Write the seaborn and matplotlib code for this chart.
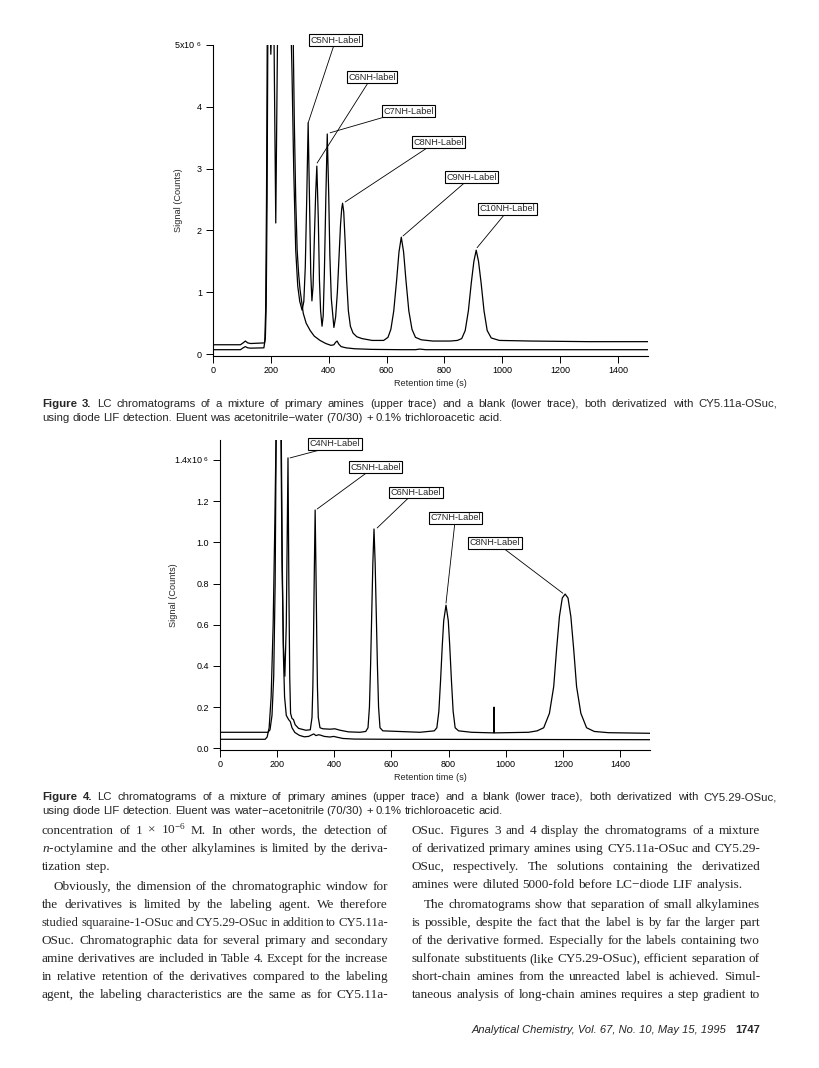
import matplotlib
matplotlib.use("Agg")
import matplotlib.pyplot as plt
import pandas as pd
import seaborn as sns

# ---------------- data ----------------
# Figure 3: retention time (s) and signal (x10^6 counts)
fig3_sample_t = [0, 95, 104, 112, 120, 130, 178, 181, 184, 187, 190, 196, 200, 204, 210,
                 214, 217, 220, 224, 268, 273, 279, 286, 293, 300, 308, 314, 319, 324, 329,
                 334, 338, 342, 346, 350, 355, 359, 364, 368, 372, 377, 381, 385, 390, 395,
                 400, 404, 409, 418, 424, 430, 436, 441, 445, 448, 452, 457, 462, 468, 475,
                 484, 497, 515, 550, 590, 605, 615, 625, 635, 643, 651, 659, 667, 677, 688,
                 700, 720, 760, 820, 845, 860, 872, 883, 893, 902, 910, 918, 927, 937, 948,
                 962, 990, 1100, 1300, 1510]
fig3_sample_s = [0.15, 0.15, 0.18, 0.21, 0.18, 0.17, 0.18, 0.25, 0.8, 2.5, 5.6, 5.6, 4.85, 5.6, 5.6,
                 3.6, 2.12, 3.6, 5.6, 5.6, 4.6, 3.0, 1.68, 1.1, 0.85, 0.71, 0.85, 1.4, 2.5, 3.74,
                 2.4, 1.3, 0.86, 1.1, 1.8, 2.6, 3.04, 2.2, 1.2, 0.7, 0.45, 0.62, 1.3, 2.5, 3.56,
                 2.6, 1.6, 0.9, 0.43, 0.6, 1.0, 1.6, 2.1, 2.35, 2.44, 2.3, 1.8, 1.2, 0.7, 0.45,
                 0.34, 0.28, 0.25, 0.22, 0.22, 0.27, 0.4, 0.7, 1.2, 1.65, 1.89, 1.65, 1.2, 0.7, 0.4,
                 0.27, 0.23, 0.21, 0.21, 0.22, 0.25, 0.38, 0.7, 1.15, 1.5, 1.68, 1.5, 1.15, 0.7, 0.38,
                 0.26, 0.22, 0.21, 0.2, 0.2]
fig3_blank_t = [0, 95, 104, 112, 120, 130, 176, 179, 182, 185, 188, 276, 281, 286, 291, 296,
                301, 312, 322, 336, 350, 370, 390, 408, 418, 424, 429, 435, 443, 460, 490,
                550, 650, 700, 715, 735, 1100, 1510]
fig3_blank_s = [0.07, 0.07, 0.1, 0.12, 0.1, 0.095, 0.1, 0.2, 0.7, 2.5, 5.6, 5.6, 3.8, 2.5, 1.68, 1.3,
                1.04, 0.66, 0.5, 0.38, 0.29, 0.22, 0.17, 0.14, 0.15, 0.19, 0.21, 0.16, 0.12, 0.1, 0.085,
                0.075, 0.07, 0.07, 0.08, 0.07, 0.07, 0.07]
fig3_labels = ["C5NH-Label", "C6NH-label", "C7NH-Label", "C8NH-Label", "C9NH-Label", "C10NH-Label"]
fig3_peak_t = [329, 360, 405, 457, 657, 913]
fig3_peak_s = [3.74, 3.09, 3.58, 2.46, 1.91, 1.72]

# Figure 4
fig4_sample_t = [0, 168, 175, 182, 188, 193, 197, 213, 217, 222, 227, 232, 235, 238, 241, 244,
                 247, 252, 257, 263, 275, 300, 316, 322, 325, 327, 330, 333, 336, 339, 341, 344,
                 350, 360, 385, 402, 420, 450, 490, 510, 518, 523, 527, 531, 535, 539, 543, 547,
                 551, 555, 560, 570, 700, 750, 759, 766, 772, 778, 783, 791, 799, 804, 810, 816,
                 823, 835, 880, 958, 959, 960, 1080, 1110, 1133, 1153, 1168, 1178, 1188, 1198, 1208,
                 1218, 1228, 1238, 1248, 1263, 1283, 1310, 1360, 1510]
fig4_sample_s = [0.078, 0.078, 0.09, 0.16, 0.35, 0.8, 1.6, 1.6, 0.9, 0.5, 0.35, 0.6, 1.0, 1.41, 0.8, 0.35,
                 0.17, 0.145, 0.14, 0.115, 0.097, 0.088, 0.09, 0.15, 0.3, 0.5, 0.85, 1.157, 0.85, 0.5, 0.3, 0.15,
                 0.1, 0.095, 0.093, 0.095, 0.088, 0.08, 0.078, 0.082, 0.1, 0.2, 0.4, 0.65, 0.9, 1.065, 0.9, 0.65,
                 0.4, 0.2, 0.1, 0.085, 0.078, 0.085, 0.1, 0.18, 0.33, 0.5, 0.62, 0.695, 0.62, 0.5, 0.33, 0.18,
                 0.1, 0.085, 0.078, 0.075, 0.2, 0.075, 0.078, 0.085, 0.1, 0.17, 0.3, 0.48, 0.64, 0.73, 0.749,
                 0.73, 0.64, 0.48, 0.3, 0.17, 0.1, 0.082, 0.076, 0.073]
fig4_blank_t = [0, 158, 165, 172, 179, 186, 192, 197, 214, 218, 222, 226, 232, 240, 246, 252,
                262, 278, 295, 310, 322, 328, 336, 345, 352, 365, 385, 398, 410, 430, 470, 600, 1510]
fig4_blank_s = [0.044, 0.044, 0.055, 0.1, 0.25, 0.6, 1.1, 1.6, 1.6, 0.9, 0.45, 0.25, 0.16, 0.14, 0.13, 0.1,
                0.077, 0.063, 0.056, 0.058, 0.066, 0.07, 0.062, 0.066, 0.064, 0.058, 0.055, 0.058, 0.054,
                0.048, 0.045, 0.044, 0.042]
fig4_labels = ["C4NH-Label", "C5NH-Label", "C6NH-Label", "C7NH-Label", "C8NH-Label"]
fig4_peak_t = [245, 340, 550, 791, 1200]
fig4_peak_s = [1.41, 1.162, 1.07, 0.705, 0.753]

xticks = [0, 200, 400, 600, 800, 1000, 1200, 1400]
fig3_yticks = [0, 1, 2, 3, 4, 5]
fig3_ylabels = ["0", "1", "2", "3", "4", "5x10 $^{\\mathsf{6}}$"]
fig4_yticks = [0.0, 0.2, 0.4, 0.6, 0.8, 1.0, 1.2, 1.4]
fig4_ylabels = ["0.0", "0.2", "0.4", "0.6", "0.8", "1.0", "1.2", "1.4x10 $^{\\mathsf{6}}$"]

cap3 = ["Figure 3.  LC chromatograms of a mixture of primary amines (upper trace) and a blank (lower trace), both derivatized with CY5.11a-OSuc,",
        "using diode LIF detection.  Eluent was acetonitrile\u2212water (70/30) + 0.1% trichloroacetic acid."]
cap4 = ["Figure 4.  LC chromatograms of a mixture of primary amines (upper trace) and a blank (lower trace), both derivatized with CY5.29-OSuc,",
        "using diode LIF detection.  Eluent was water\u2212acetonitrile (70/30) + 0.1% trichloroacetic acid."]

col_left = ["concentration of 1 \u00d7 10$^{-6}$ M.  In other words, the detection of",
            "$\\mathit{n}$-octylamine and the other alkylamines is limited by the deriva-",
            "tization step.",
            "Obviously, the dimension of the chromatographic window for",
            "the derivatives is limited by the labeling agent.  We therefore",
            "studied squaraine-1-OSuc and CY5.29-OSuc in addition to CY5.11a-",
            "OSuc.  Chromatographic data for several primary and secondary",
            "amine derivatives are included in Table 4.  Except for the increase",
            "in relative retention of the derivatives compared to the labeling",
            "agent, the labeling characteristics are the same as for CY5.11a-"]
col_right = ["OSuc.  Figures 3 and 4 display the chromatograms of a mixture",
             "of derivatized primary amines using CY5.11a-OSuc and CY5.29-",
             "OSuc, respectively.  The solutions containing the derivatized",
             "amines were diluted 5000-fold before LC\u2212diode LIF analysis.",
             "The chromatograms show that separation of small alkylamines",
             "is possible, despite the fact that the label is by far the larger part",
             "of the derivative formed.  Especially for the labels containing two",
             "sulfonate substituents (like CY5.29-OSuc), efficient separation of",
             "short-chain amines from the unreacted label is achieved.  Simul-",
             "taneous analysis of long-chain amines requires a step gradient to"]
footer = "Analytical Chemistry, Vol. 67, No. 10, May 15, 1995"
page_no = "1747"

# ---------------- style ----------------
sns.set_style("ticks")
plt.rcParams['font.family'] = ['Liberation Sans', 'DejaVu Sans']
plt.rcParams['mathtext.fontset'] = 'custom'
plt.rcParams['mathtext.rm'] = 'Liberation Serif'
plt.rcParams['mathtext.it'] = 'Liberation Serif:italic'
plt.rcParams['mathtext.bf'] = 'Liberation Serif:bold'
plt.rcParams['mathtext.sf'] = 'Liberation Sans'

W, H = 820, 1068
fig = plt.figure(figsize=(W / 100, H / 100), dpi=100)
fig.patch.set_facecolor('white')
rend = fig.canvas.get_renderer()


def chromatogram(ax, st, ss, bt, bs, labels, pt, ps, boxes, xlim, ylim, yt, yl, xlab_x, ylab_x):
    df = pd.concat([pd.DataFrame({'t': st, 's': ss, 'trace': 'sample'}),
                    pd.DataFrame({'t': bt, 's': bs, 'trace': 'blank'})])
    sns.lineplot(data=df, x='t', y='s', units='trace', estimator=None, sort=False,
                 color='black', linewidth=0.9, legend=False, ax=ax)
    ax.set_xlim(*xlim)
    ax.set_ylim(*ylim)
    ax.set_facecolor('white')
    sns.despine(ax=ax)
    for sp in ('left', 'bottom'):
        ax.spines[sp].set_linewidth(0.8)
        ax.spines[sp].set_color('black')
    ax.set_xticks(xticks)
    ax.set_xticklabels([str(v) for v in xticks])
    ax.set_yticks(yt)
    ax.set_yticklabels(yl)
    ax.tick_params(direction='out', length=5, width=0.7, labelsize=6.5, colors='black')
    ax.tick_params(axis='x', pad=2)
    ax.tick_params(axis='y', pad=3)
    ax.set_xlabel('Retention time (s)', fontsize=6.6)
    ax.set_ylabel('Signal (Counts)', fontsize=6.6)
    ax.xaxis.set_label_coords(xlab_x, -0.075)
    ax.yaxis.set_label_coords(ylab_x, 0.5)
    for lab, x, y, (bx, by, rx) in zip(labels, pt, ps, boxes):
        ax.annotate(lab, xy=(x, y), xytext=(bx, by), textcoords='data',
                    ha='center', va='center', fontsize=6.6, annotation_clip=False,
                    bbox=dict(boxstyle='square,pad=0.16', fc='white', ec='black', lw=0.8),
                    arrowprops=dict(arrowstyle='-', lw=0.6, color='black',
                                    relpos=(rx, 0), shrinkA=0, shrinkB=0))


ax1 = fig.add_axes([213 / W, 1 - 356 / H, 435 / W, 311 / H])
boxes3 = [(424, 5.08, 0.47), (550, 4.48, 0.43), (676, 3.93, 0.12),
          (779, 3.43, 0.32), (893, 2.86, 0.39), (1019, 2.35, 0.46)]
chromatogram(ax1, fig3_sample_t, fig3_sample_s, fig3_blank_t, fig3_blank_s,
             fig3_labels, fig3_peak_t, fig3_peak_s, boxes3,
             (0, 1504), (-0.032, 5.0), fig3_yticks, fig3_ylabels, 0.499, -0.07)

ax2 = fig.add_axes([220 / W, 1 - 750 / H, 430 / W, 310 / H])
boxes4 = [(402, 1.478, 0.32), (544, 1.364, 0.35), (686, 1.242, 0.37),
          (824, 1.12, 0.49), (962, 0.999, 0.64)]
chromatogram(ax2, fig4_sample_t, fig4_sample_s, fig4_blank_t, fig4_blank_s,
             fig4_labels, fig4_peak_t, fig4_peak_s, boxes4,
             (0, 1505), (-0.008, 1.497), fig4_yticks, fig4_ylabels, 0.49, -0.098)


def text_line(line, x0, x1, y, size, family, justify=True, bold=0):
    words = line.split()
    while True:
        arts = [fig.text(x0 / W, 1 - y / H, w, fontsize=size, family=family,
                         weight='bold' if i < bold else 'normal', va='baseline', ha='left')
                for i, w in enumerate(words)]
        widths = [a.get_window_extent(rend).width for a in arts]
        space = size * 0.26 * 100 / 72
        if justify and len(words) > 1:
            space = (x1 - x0 - sum(widths)) / (len(words) - 1)
        if space >= size * 0.2 or not justify:
            break
        for a in arts:
            a.remove()
        size -= 0.1
    x = x0
    for a, wd in zip(arts, widths):
        a.set_x(x / W)
        x += wd + space


sans = ['Liberation Sans', 'DejaVu Sans']
serif = ['Liberation Serif', 'DejaVu Serif']

# captions
for cap, y0 in ((cap3, 407), (cap4, 800)):
    text_line(cap[0], 42, 777, y0, 8.2, sans, justify=True, bold=2)
    text_line(cap[1], 42, 777, y0 + 14, 8.2, sans, justify=False)

# body text, two justified columns
left_y = [834, 852, 870, 890, 908, 926, 944, 962, 980, 998]
right_y = [834, 852, 870, 888, 908, 926, 944, 962, 980, 998]
for i, (line, y) in enumerate(zip(col_left, left_y)):
    ind = 12 if i == 3 else 0
    text_line(line, 42 + ind, 388, y, 9.5, serif, justify=(i != 2))
for i, (line, y) in enumerate(zip(col_right, right_y)):
    ind = 12 if i == 4 else 0
    text_line(line, 412 + ind, 760, y, 9.5, serif, justify=(i != 3))

# running footer
pn = fig.text(760 / W, 1 - 1033 / H, page_no, fontsize=8, weight='bold', ha='right', va='baseline')
pw = pn.get_window_extent(rend).width
fig.text((760 - pw - 9) / W, 1 - 1033 / H, footer, fontsize=8, style='italic',
         ha='right', va='baseline')

fig.savefig('out.png', dpi=100, facecolor='white')
